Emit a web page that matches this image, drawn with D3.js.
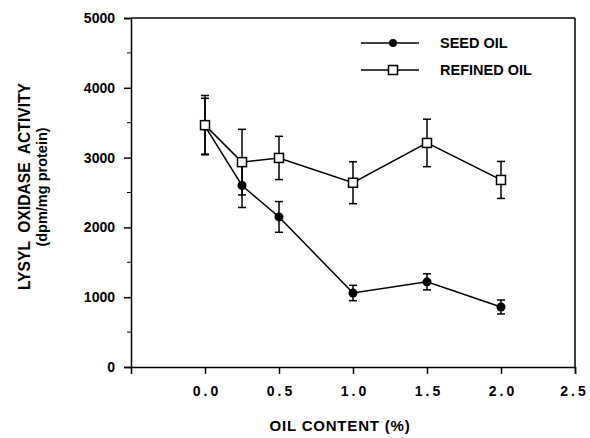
<!DOCTYPE html>
<html>
<head>
<meta charset="utf-8">
<script src="https://cdn.jsdelivr.net/npm/d3@7"></script>
<style>
  body { margin: 0; background: #fff; }
  svg text { font-family: "Liberation Sans", Arial, sans-serif; font-weight: bold; fill: #000; }
</style>
</head>
<body>
<svg id="chart" width="590" height="438"></svg>
<script>
// data
const oilContent = [0.0, 0.25, 0.5, 1.0, 1.5, 2.0];
const seedOil = [3450, 2600, 2150, 1060, 1220, 860];
const seedErr = [400, 315, 220, 110, 115, 100];
const refinedOil = [3465, 2935, 2995, 2640, 3210, 2680];
const refinedErr = [425, 470, 310, 300, 340, 265];
const xTicks = [0.0, 0.5, 1.0, 1.5, 2.0, 2.5];
const yTicks = [0, 1000, 2000, 3000, 4000, 5000];
const yMinor = [500, 1500, 2500, 3500, 4500];

const svg = d3.select("#chart");
const margin = { left: 131, right: 15, top: 18, bottom: 71 };
const width = 590 - margin.left - margin.right;
const height = 438 - margin.top - margin.bottom;

const x = d3.scaleLinear().domain([-0.5, 2.5]).range([0, width]);
const y = d3.scaleLinear().domain([0, 5000]).range([height, 0]);

const g = svg.append("g").attr("transform", `translate(${margin.left},${margin.top})`);

// frame top + right
g.append("line").attr("x1", 0).attr("x2", width).attr("y1", 0).attr("y2", 0)
  .attr("stroke", "#000").attr("stroke-width", 1.5);
g.append("line").attr("x1", width).attr("x2", width).attr("y1", 0).attr("y2", height)
  .attr("stroke", "#000").attr("stroke-width", 1.5);

// x axis
const xAxis = g.append("g").attr("transform", `translate(0,${height})`)
  .call(d3.axisBottom(x).tickValues(xTicks).tickFormat(d3.format(".1f")).tickSizeOuter(0).tickSize(7).tickPadding(12));
xAxis.select(".domain").attr("stroke-width", 1.5);
xAxis.selectAll(".tick line").attr("stroke-width", 1.5);
xAxis.selectAll("text").style("font-size", "14px").style("letter-spacing", "3px")
  .attr("dx", d => d === 2.5 ? "-1px" : "1.5px");

// y axis
const yAxis = g.append("g")
  .call(d3.axisLeft(y).tickValues(yTicks).tickFormat(d3.format("d")).tickSizeOuter(0).tickSize(7).tickPadding(9));
yAxis.select(".domain").attr("stroke-width", 1.5);
yAxis.selectAll(".tick line").attr("stroke-width", 1.5);
yAxis.selectAll("text").style("font-size", "14px");
yAxis.selectAll(".minor").data(yMinor).enter().append("line")
  .attr("x1", -4).attr("x2", 0).attr("y1", d => y(d)).attr("y2", d => y(d))
  .attr("stroke", "#000").attr("stroke-width", 1);

// axis titles
svg.append("text").attr("x", 340).attr("y", 431).attr("text-anchor", "middle")
  .style("font-size", "15px").style("letter-spacing", "0.8px").text("OIL CONTENT (%)");
svg.append("text").attr("transform", "translate(30,186.5) rotate(-90)").attr("text-anchor", "middle")
  .style("font-size", "17px").style("white-space", "pre")
  .attr("textLength", 207).attr("lengthAdjust", "spacingAndGlyphs")
  .text("LYSYL  OXIDASE  ACTIVITY");
svg.append("text").attr("transform", "translate(47,187) rotate(-90)").attr("text-anchor", "middle")
  .style("font-size", "14.5px").text("(dpm/mg protein)");

const line = d3.line().x(d => x(d[0])).y(d => y(d[1]));

function drawSeries(vals, errs, filled) {
  const pts = oilContent.map((c, i) => [c, vals[i], errs[i]]);
  // error bars
  const eb = g.append("g");
  pts.forEach(p => {
    eb.append("line").attr("x1", x(p[0])).attr("x2", x(p[0]))
      .attr("y1", y(p[1] - p[2])).attr("y2", y(p[1] + p[2])).attr("stroke", "#000").attr("stroke-width", 1.5);
    [p[1] - p[2], p[1] + p[2]].forEach(v => {
      eb.append("line").attr("x1", x(p[0]) - 4).attr("x2", x(p[0]) + 4)
        .attr("y1", y(v)).attr("y2", y(v)).attr("stroke", "#000").attr("stroke-width", 1.5);
    });
  });
  g.append("path").datum(pts).attr("d", line).attr("fill", "none")
    .attr("stroke", "#000").attr("stroke-width", 1.5);
  if (filled) {
    g.selectAll(null).data(pts).enter().append("circle")
      .attr("cx", d => x(d[0])).attr("cy", d => y(d[1])).attr("r", 4.5).attr("fill", "#000");
  } else {
    g.selectAll(null).data(pts).enter().append("rect")
      .attr("x", d => x(d[0]) - 4.5).attr("y", d => y(d[1]) - 4.5)
      .attr("width", 9).attr("height", 9).attr("fill", "#fff").attr("stroke", "#000").attr("stroke-width", 1.5);
  }
}

drawSeries(seedOil, seedErr, true);
drawSeries(refinedOil, refinedErr, false);

// legend
const legend = svg.append("g");
const legendItems = [["SEED OIL", true, 43], ["REFINED OIL", false, 70]];
legendItems.forEach(([label, filled, ly]) => {
  legend.append("line").attr("x1", 361).attr("x2", 419).attr("y1", ly).attr("y2", ly)
    .attr("stroke", "#000").attr("stroke-width", 1.5);
  if (filled) {
    legend.append("circle").attr("cx", 393).attr("cy", ly).attr("r", 4).attr("fill", "#000");
  } else {
    legend.append("rect").attr("x", 388.5).attr("y", ly - 4.5).attr("width", 9).attr("height", 9)
      .attr("fill", "#fff").attr("stroke", "#000").attr("stroke-width", 1.5);
  }
  legend.append("text").attr("x", 440).attr("y", ly).attr("dy", "0.35em")
    .style("font-size", "14.5px").text(label);
});
</script>
</body>
</html>
